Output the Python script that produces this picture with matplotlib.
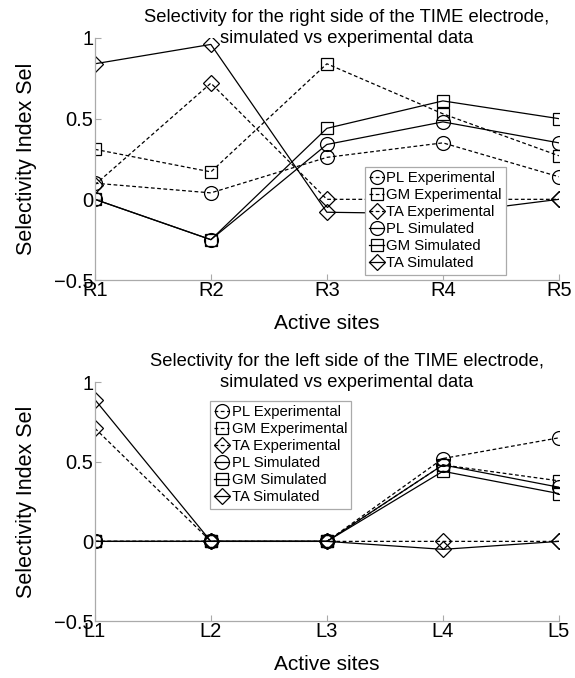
import matplotlib
matplotlib.use("Agg")
import matplotlib.pyplot as plt

plt.rcParams['font.family'] = ['Liberation Sans', 'DejaVu Sans']

# right side (R1..R5)
r_sites = ['R1', 'R2', 'R3', 'R4', 'R5']
r_pl_exp = [0.10, 0.04, 0.26, 0.35, 0.14]
r_gm_exp = [0.31, 0.17, 0.84, 0.53, 0.27]
r_ta_exp = [0.09, 0.72, 0.00, 0.00, 0.00]
r_pl_sim = [0.00, -0.25, 0.34, 0.48, 0.35]
r_gm_sim = [0.00, -0.25, 0.44, 0.61, 0.50]
r_ta_sim = [0.84, 0.96, -0.08, -0.09, 0.00]

# left side (L1..L5)
l_sites = ['L1', 'L2', 'L3', 'L4', 'L5']
l_pl_exp = [0.00, 0.00, 0.00, 0.52, 0.65]
l_gm_exp = [0.00, 0.00, 0.00, 0.48, 0.38]
l_ta_exp = [0.71, 0.00, 0.00, 0.00, 0.00]
l_pl_sim = [0.00, 0.00, 0.00, 0.48, 0.34]
l_gm_sim = [0.00, 0.00, 0.00, 0.44, 0.30]
l_ta_sim = [0.89, 0.00, 0.00, -0.05, 0.00]

labels = ['PL Experimental', 'GM Experimental', 'TA Experimental',
          'PL Simulated', 'GM Simulated', 'TA Simulated']
markers = ['o', 's', 'D', 'o', 's', 'D']
styles = ['--', '--', '--', '-', '-', '-']
msizes = [10, 8.5, 8, 10, 8.5, 8]

fig = plt.figure(figsize=(5.75, 6.78), dpi=100)
ax1 = fig.add_axes([0.165, 0.587, 0.807, 0.357])
ax2 = fig.add_axes([0.165, 0.084, 0.807, 0.3525])


def draw(ax, sites, series, title, legend_box):
    x = range(len(sites))
    for vals, m, ls, ms, lab in zip(series, markers, styles, msizes, labels):
        ax.plot(x, vals, linestyle=ls, color='black', linewidth=0.9,
                marker=m, markersize=ms,
                markerfacecolor='none', markeredgecolor='black',
                markeredgewidth=0.9, label=lab, dashes=(3, 2) if ls == '--' else (None, None))
    ax.set_xlim(0, len(sites) - 1)
    ax.set_ylim(-0.5, 1)
    ax.set_xticks(list(x))
    ax.set_xticklabels(sites)
    ax.set_yticks([-0.5, 0, 0.5, 1])
    ax.set_yticklabels(['\u22120.5', '0', '0.5', '1'])
    ax.spines['top'].set_visible(False)
    ax.spines['right'].set_visible(False)
    for s in ['left', 'bottom']:
        ax.spines[s].set_color('#aaaaaa')
        ax.spines[s].set_linewidth(0.9)
    ax.tick_params(direction='in', length=4, color='#aaaaaa', labelsize=14.5, pad=1)
    ax.set_xlabel('Active sites', fontsize=15, labelpad=10)
    ax.set_ylabel('Selectivity Index Sel', fontsize=15.5, labelpad=12)
    ax.text(0.543, 0.963, title, transform=ax.transAxes, ha='center', va='bottom',
            fontsize=13.2, linespacing=1.3)
    leg = ax.legend(loc='upper left', bbox_to_anchor=legend_box, fontsize=10.7,
                    frameon=True, fancybox=False, handlelength=1.0, handletextpad=0.15,
                    labelspacing=0.2, borderpad=0.3, borderaxespad=0)
    leg.get_frame().set_edgecolor('#aaaaaa')
    leg.get_frame().set_linewidth(0.9)
    leg.get_frame().set_alpha(1)


draw(ax1, r_sites, [r_pl_exp, r_gm_exp, r_ta_exp, r_pl_sim, r_gm_sim, r_ta_sim],
     'Selectivity for the right side of the TIME electrode,\nsimulated vs experimental data',
     (0.582, 0.467))
draw(ax2, l_sites, [l_pl_exp, l_gm_exp, l_ta_exp, l_pl_sim, l_gm_sim, l_ta_sim],
     'Selectivity for the left side of the TIME electrode,\nsimulated vs experimental data',
     (0.248, 0.921))

fig.savefig('out.png', dpi=100)
